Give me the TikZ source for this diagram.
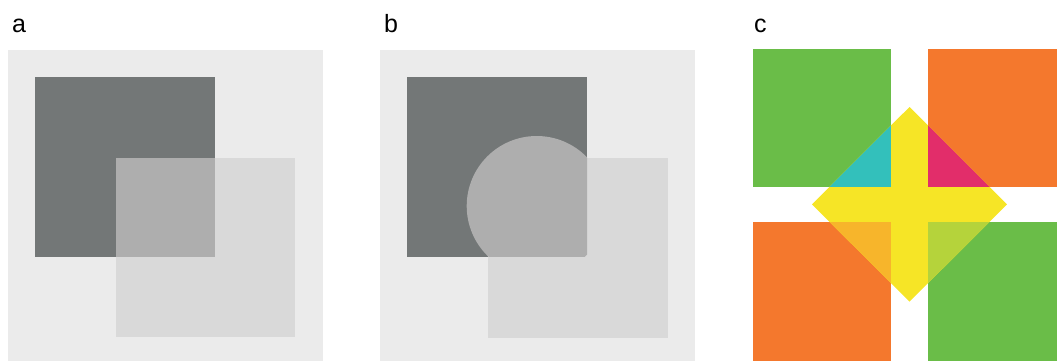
\documentclass[tikz,border=0pt]{standalone}
\usepackage{fontspec}
\setmainfont{Liberation Sans}
\definecolor{bgg}{HTML}{EBEBEB}
\definecolor{darkg}{HTML}{737777}
\definecolor{lightg}{HTML}{D9D9D9}
\definecolor{midg}{HTML}{AEAEAE}
\definecolor{cgreen}{HTML}{6ABD48}
\definecolor{corange}{HTML}{F4782D}
\definecolor{cyellow}{HTML}{F6E526}
\definecolor{ccyan}{HTML}{33C0BB}
\definecolor{cmag}{HTML}{E22D6A}
\definecolor{cory}{HTML}{F7B52B}
\definecolor{cygr}{HTML}{B5D33B}
\begin{document}
\begin{tikzpicture}[x=1pt,y=-1pt,
  lbl/.style={anchor=base west,inner sep=0pt,font=\fontsize{25}{30}\selectfont}]
\useasboundingbox (0,0) rectangle (1057,361);
% labels
\node[lbl] (la) at (12,33) {a};
\node[lbl] (lb) at (384,33) {b};
\node[lbl] (lc) at (754,33) {c};
% panel a
\fill[bgg] (8,50) rectangle (323,361);
\fill[darkg] (35.3,77.3) rectangle (214.7,256.7);
\fill[lightg] (116,158) rectangle (295,336.7);
\fill[midg] (116,158) rectangle (214.7,256.7);
% panel b
\fill[bgg] (380,50) rectangle (695,361);
\fill[darkg] (406.7,77) rectangle (587,256.7);
\fill[lightg] (488,158) rectangle (667.7,337.7);
\begin{scope}
  \clip (406.7,77) rectangle (587,256.7);
  \fill[midg] (536.7,206) circle (70);
\end{scope}
% panel c
\fill[cgreen] (752.7,49) rectangle (890.7,186.7);
\fill[corange] (927.5,49) rectangle (1057,186.7);
\fill[corange] (752.7,222.3) rectangle (890.7,360.5);
\fill[cgreen] (927.5,222.3) rectangle (1057,360.5);
\fill[cyellow] (909.5,107) -- (1007,204.3) -- (909.5,301.7) -- (812,204.3) -- cycle;
\begin{scope}
  \clip (909.5,107) -- (1007,204.3) -- (909.5,301.7) -- (812,204.3) -- cycle;
  \fill[ccyan] (752.7,49) rectangle (890.7,186.7);
  \fill[cmag] (927.5,49) rectangle (1057,186.7);
  \fill[cory] (752.7,222.3) rectangle (890.7,360.5);
  \fill[cygr] (927.5,222.3) rectangle (1057,360.5);
\end{scope}
\end{tikzpicture}
\end{document}
